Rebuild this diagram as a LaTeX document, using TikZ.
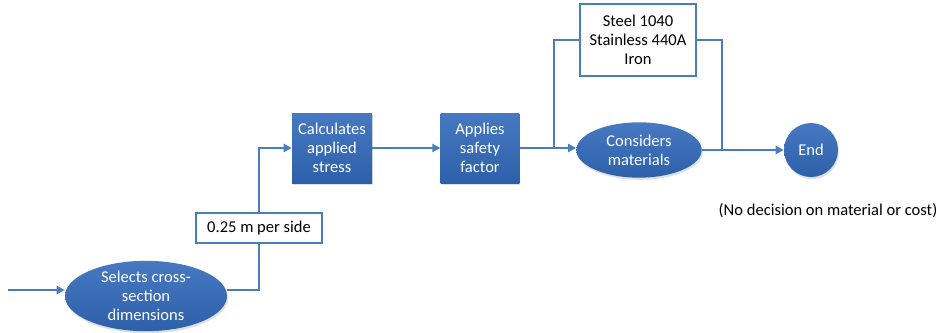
\documentclass[tikz,border=0pt]{standalone}
\usepackage{fontspec}
\setmainfont{Carlito}
\usetikzlibrary{shapes.geometric,arrows.meta,shadows}
\definecolor{flowblue}{HTML}{4A7EBB}
\definecolor{filltop}{HTML}{4779C2}
\definecolor{fillbot}{HTML}{2D60A9}
\tikzset{
  flow/.style={draw=flowblue,line width=2.1pt},
  arr/.style={-{Triangle[length=6pt,width=6pt]}},
  txt/.style={font=\fontsize{12.4}{14.3}\selectfont,align=center,inner sep=0pt},
  proc/.style={txt,rectangle,top color=filltop,bottom color=fillbot,text=white,
    drop shadow={opacity=0.25,shadow xshift=0.8pt,shadow yshift=-1.6pt}},
  procell/.style={proc,ellipse},
  notebox/.style={txt,rectangle,draw=flowblue,line width=1.7pt,fill=white,text=black}
}
\begin{document}
\begin{tikzpicture}[x=0.75pt,y=-0.75pt]
   \useasboundingbox (0,0) rectangle (937,332);
   \node[procell,minimum width=121.5pt,minimum height=47pt] (sel) at (146,296) {Selects cross-\\section\\dimensions};
   \node[notebox,minimum width=94.5pt,minimum height=22.5pt] (size) at (259,228) {0.25 m per side};
   \node[proc,minimum width=60pt,minimum height=52.5pt] (calc) at (332,148) {Calculates\\applied\\stress};
   \node[proc,minimum width=59pt,minimum height=52.5pt] (safe) at (480,148) {Applies\\safety\\factor};
   \node[procell,minimum width=94pt,minimum height=41.5pt] (cons) at (639,150) {Considers\\materials};
   \node[procell,circle,minimum size=40.5pt] (end) at (811,150) {End};
   \node[notebox,minimum width=87pt,minimum height=54pt] (mats) at (638,40) {Steel 1040\\Stainless 440A\\Iron};
   \node[txt] (nodec) at (828,211) {(No decision on material or cost)};
   \coordinate (start) at (8,290);
   \coordinate (split) at (554,149);
   \coordinate (join) at (722,149);
   \draw[flow,arr] (start) -- (start -| sel.west);
   \draw[flow] (sel.east |- start) -| (size.south);
   \draw[flow,arr] (size.north) |- (calc.west);
   \draw[flow,arr] (calc) -- (safe);
   \draw[flow,arr] (safe.east) -- (safe.east -| cons.west);
   \draw[flow] (split) |- (mats.west);
   \draw[flow] (mats.east) -| (join);
   \draw[flow,arr] (cons) -- (end);
  \end{tikzpicture}
\end{document}
